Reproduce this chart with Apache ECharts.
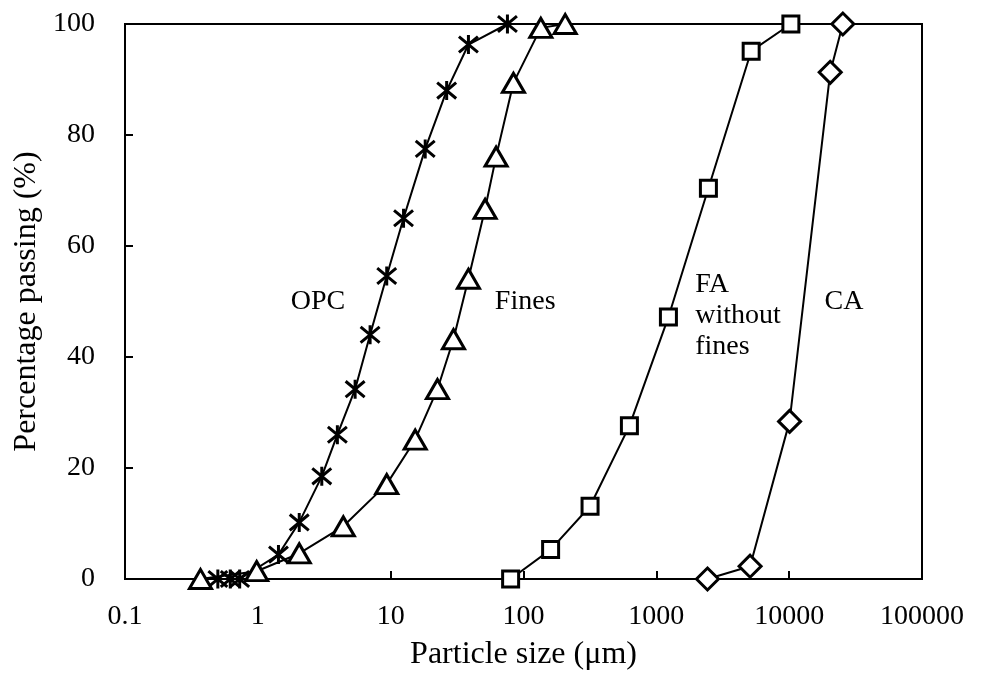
<!DOCTYPE html>
<html>
<head>
<meta charset="utf-8">
<script src="https://cdn.jsdelivr.net/npm/echarts@6/dist/echarts.min.js"></script>
<style>
  html, body { margin: 0; padding: 0; background: #fff; }
  #main { width: 986px; height: 679px; }
</style>
</head>
<body>
<div id="main"></div>
<script>
// particle size (um) / percentage passing
var opcSize   = [0.5, 0.62, 0.73, 1.43, 2.05, 3.03, 3.97, 5.4, 7.0, 9.34, 12.5, 18.2, 26.4, 38.5, 75.7];
var opcPass   = [0, 0, 0, 4.4, 10.2, 18.5, 26.0, 34.2, 44.0, 54.6, 65.0, 77.5, 88.0, 96.3, 100];
var finesSize = [0.37, 0.98, 2.05, 4.4, 9.34, 15.3, 22.5, 29.7, 38.5, 51.4, 62.2, 84.0, 135, 206];
var finesPass = [0, 1.4, 4.6, 9.5, 17.1, 25.1, 34.2, 43.2, 54.1, 66.7, 76.1, 89.4, 99.3, 100];
var faSize    = [80, 160, 317, 627, 1233, 2466, 5175, 10300];
var faPass    = [0, 5.3, 13.1, 27.6, 47.2, 70.4, 95.1, 100];
var caSize    = [2427, 5080, 10070, 20370, 25350];
var caPass    = [0, 2.3, 28.4, 91.3, 100];

// curve names and where they are written (x, y in data units)
var curveNames = ['OPC', 'Fines', 'FA\nwithout\nfines', 'CA'];
var nameAt = [[2.84, 50], [103, 50], [1960, 47.4], [25900, 50]];

var font = 'Liberation Serif';

window.onload = function () {
    var myChart = echarts.init(document.getElementById('main'));

    var pairs = function (xs, ys) {
        var out = [];
        for (var i = 0; i < xs.length; i++) out.push([xs[i], ys[i]]);
        return out;
    };
    var star = 'path://M0 0L20 20M20 0L0 20M10 -2L10 22';

    var makeSeries = function (name, xs, ys, symbol, size, k, align) {
        return {
            name: name,
            type: 'line',
            data: pairs(xs, ys),
            symbol: symbol,
            symbolSize: size,
            showAllSymbol: true,
            clip: false,
            lineStyle: { color: '#000', width: 2 },
            itemStyle: { color: '#fff', borderColor: '#000', borderWidth: 3 },
            markPoint: {
                symbol: 'circle',
                symbolSize: 0,
                silent: true,
                label: {
                    show: true,
                    position: 'inside',
                    align: align,
                    formatter: curveNames[k],
                    color: '#000',
                    fontFamily: font,
                    fontSize: 28,
                    lineHeight: 31
                },
                data: [{ coord: nameAt[k] }]
            }
        };
    };

    var option = {
        animation: false,
        backgroundColor: '#fff',
        grid: {
            left: 125, right: 64, top: 24, bottom: 100,
            show: true, borderColor: '#000', borderWidth: 2
        },
        xAxis: {
            type: 'log',
            logBase: 10,
            min: 0.1,
            max: 100000,
            name: 'Particle size (μm)',
            nameLocation: 'middle',
            nameGap: 60,
            nameTextStyle: { fontFamily: font, fontSize: 32, color: '#000' },
            axisLine: { lineStyle: { color: '#000', width: 2 } },
            axisTick: { inside: true, length: 8, lineStyle: { color: '#000', width: 2 } },
            axisLabel: {
                margin: 24,
                fontFamily: font, fontSize: 28, color: '#000',
                formatter: function (v) { return String(v); }
            },
            splitLine: { show: false },
            minorTick: { show: false }
        },
        yAxis: {
            type: 'value',
            min: 0,
            max: 100,
            interval: 20,
            name: 'Percentage passing (%)',
            nameLocation: 'middle',
            nameGap: 82,
            nameTextStyle: { fontFamily: font, fontSize: 32, color: '#000' },
            axisLine: { show: true, lineStyle: { color: '#000', width: 2 } },
            axisTick: { show: true, inside: true, length: 8, lineStyle: { color: '#000', width: 2 } },
            axisLabel: { margin: 30, fontFamily: font, fontSize: 28, color: '#000' },
            splitLine: { show: false }
        },
        series: [
            makeSeries('OPC', opcSize, opcPass, star, 19, 0, 'center'),
            makeSeries('Fines', finesSize, finesPass, 'triangle', [22, 19], 1, 'center'),
            makeSeries('FA without fines', faSize, faPass, 'rect', 16, 2, 'left'),
            makeSeries('CA', caSize, caPass, 'diamond', 22, 3, 'center')
        ]
    };
    myChart.setOption(option);
};
</script>
</body>
</html>
